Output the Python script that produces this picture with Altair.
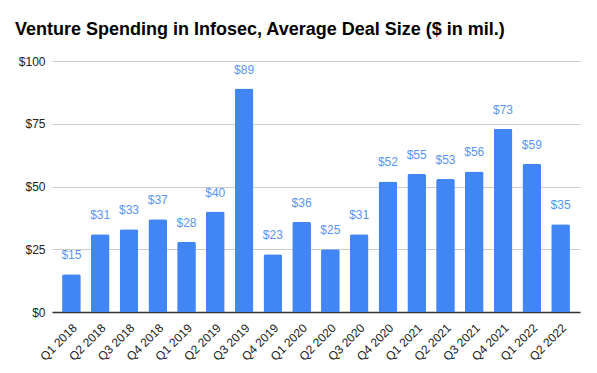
import altair as alt
import pandas as pd

quarters = ["Q1 2018", "Q2 2018", "Q3 2018", "Q4 2018", "Q1 2019", "Q2 2019",
            "Q3 2019", "Q4 2019", "Q1 2020", "Q2 2020", "Q3 2020", "Q4 2020",
            "Q1 2021", "Q2 2021", "Q3 2021", "Q4 2021", "Q1 2022", "Q2 2022"]
values = [15, 31, 33, 37, 28, 40, 89, 23, 36, 25, 31, 52, 55, 53, 56, 73, 59, 35]

df = pd.DataFrame({"quarter": quarters, "value": values})
df["label"] = ["$" + str(v) for v in values]

BLUE = "#4285F4"
FONT = "Liberation Sans"

x = alt.X("quarter:N", sort=quarters, title=None,
          scale=alt.Scale(paddingInner=0.35, paddingOuter=0.35),
          axis=alt.Axis(labelAngle=-45, labelAlign="right", labelBaseline="top",
                        labelFontSize=12, labelColor="#222", labelFont=FONT,
                        ticks=False, domainColor="#333", domainWidth=1.5,
                        labelPadding=10))
y = alt.Y("value:Q", title=None,
          scale=alt.Scale(domain=[0, 100], nice=False),
          axis=alt.Axis(values=[0, 25, 50, 75, 100], labelExpr="'$' + datum.value",
                        labelFontSize=12, labelColor="#222", labelFont=FONT,
                        ticks=False, domain=False, gridColor="#cccccc",
                        labelPadding=7))

bars = alt.Chart(df).mark_bar(color=BLUE, cornerRadiusTopLeft=2,
                              cornerRadiusTopRight=2).encode(x=x, y=y)
text = alt.Chart(df).mark_text(color="#5A95F5", fontSize=12, font=FONT, dy=-19,
                               baseline="middle").encode(x=x, y=y, text="label:N")

chart = (bars + text).properties(
    width=528, height=251,
    title=alt.TitleParams("Venture Spending in Infosec, Average Deal Size ($ in mil.)",
                          anchor="start", frame="group", fontSize=18, font=FONT,
                          fontWeight="bold", color="#000", dx=-37, offset=16),
    autosize=alt.AutoSizeParams(type="none"),
    padding={"left": 44, "top": 53, "right": 9, "bottom": 53},
).configure_view(stroke=None)

chart.save("out.html", embed_options={"renderer": "svg", "actions": False})
